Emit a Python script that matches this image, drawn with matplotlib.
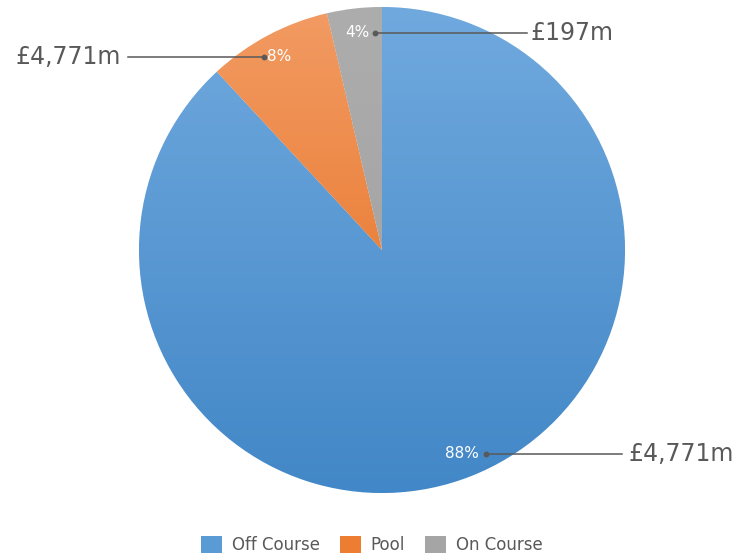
import matplotlib
matplotlib.use("Agg")
import matplotlib.pyplot as plt
import numpy as np
from matplotlib.colors import LinearSegmentedColormap
from matplotlib.patches import Patch

# Data
categories = ["Off Course", "Pool", "On Course"]
values = [4771, 447, 197]            # £m
value_labels = ["£4,771m", "£4,771m", "£197m"]
legend_colors = ["#5B9BD5", "#ED7D31", "#A5A5A5"]
grad_top = ["#70A9DE", "#F29B63", "#ADADAD"]
grad_bot = ["#4287C7", "#E56A18", "#9E9E9E"]

W, H = 738, 559
fig = plt.figure(figsize=(W / 100, H / 100), dpi=100)
ax = fig.add_axes([0, 0, 1, 1])

cx, cy, R = 382, H - 250, 243
wedges, texts, autotexts = ax.pie(
    values, startangle=90, counterclock=False, center=(cx, cy), radius=R,
    colors=legend_colors, autopct=lambda p: f"{p:.0f}%", pctdistance=0.9,
    frame=True, wedgeprops=dict(linewidth=0.6, edgecolor="white"),
    textprops=dict(color="white", fontsize=11, family="DejaVu Sans"))
ax.set_xlim(0, W)
ax.set_ylim(0, H)
ax.set_aspect("auto")
ax.axis("off")

# vertical gradients clipped to each wedge
grad = np.linspace(0, 1, 256).reshape(-1, 1)
for w, top, bot in zip(wedges, grad_top, grad_bot):
    cmap = LinearSegmentedColormap.from_list("g", [bot, top])
    im = ax.imshow(grad, cmap=cmap, origin="lower", aspect="auto",
                   extent=(cx - R, cx + R, cy - R, cy + R), zorder=w.get_zorder() + 0.1)
    im.set_clip_path(w)
for t in autotexts:
    t.set_zorder(5)

# leader lines and value labels
lc = "#595959"
leaders = [
    # (dot x offset from pct label center, line end x, label x, ha)
    (24, 622, 628, "left"),
    (-15, 128, 121, "right"),
    (18, 527, 530, "left"),
]
for at, lab, (dx, xend, xt, ha) in zip(autotexts, value_labels, leaders):
    x0, y0 = at.get_position()
    ax.plot([x0 + dx, xend], [y0, y0], color=lc, lw=1.1, zorder=6)
    ax.plot([x0 + dx], [y0], "o", color=lc, ms=3.2, zorder=6)
    ax.text(xt, y0, lab, ha=ha, va="center", fontsize=17, color=lc, zorder=6)

handles = [Patch(facecolor=c, edgecolor="none") for c in legend_colors]
fig.legend(handles, categories, loc="center", bbox_to_anchor=(372 / W, 1 - 545 / H),
           ncol=3, frameon=False, fontsize=12, handlelength=1.25, handleheight=1.25,
           handletextpad=0.6, columnspacing=1.2, labelcolor=lc)

fig.savefig("out.png", dpi=100, facecolor="white")
